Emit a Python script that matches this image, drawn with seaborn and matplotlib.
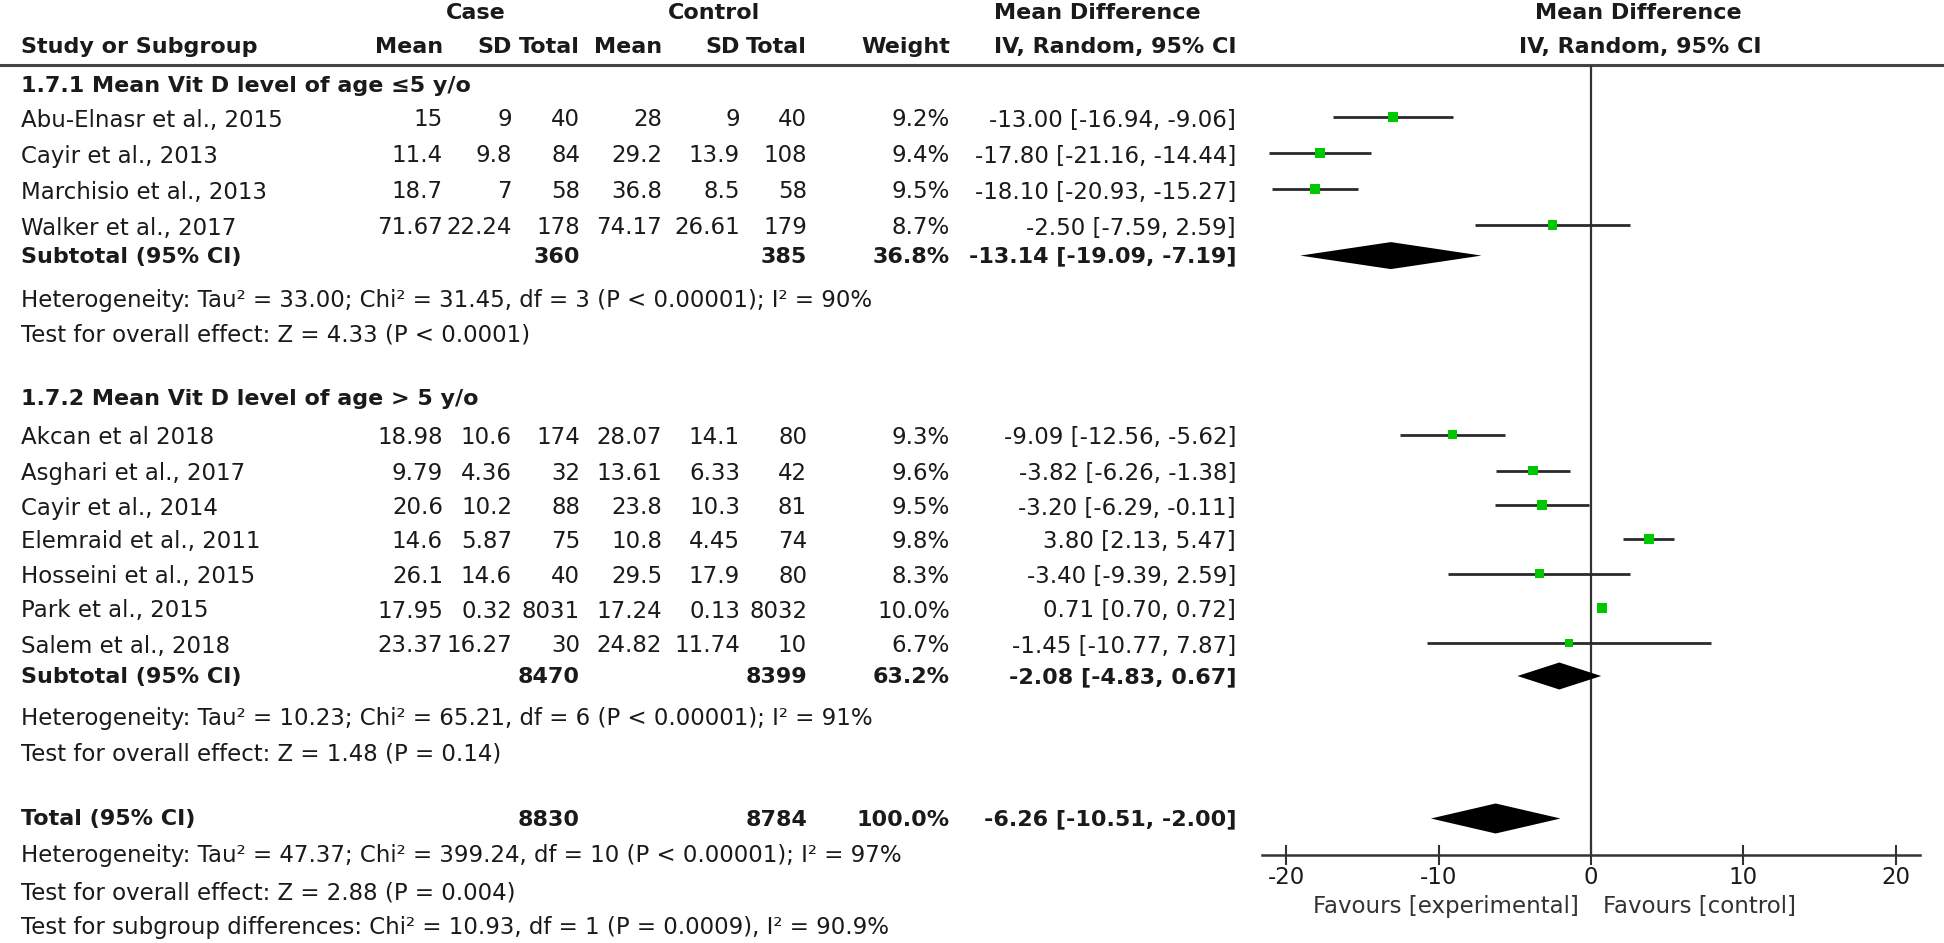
import numpy as np
import pandas as pd
import matplotlib
matplotlib.use("Agg")
import matplotlib.pyplot as plt
import seaborn as sns

# ---------------- data ----------------
studies = ["Abu-Elnasr et al., 2015", "Cayir et al., 2013", "Marchisio et al., 2013", "Walker et al., 2017",
           "Akcan et al 2018", "Asghari et al., 2017", "Cayir et al., 2014", "Elemraid et al., 2011",
           "Hosseini et al., 2015", "Park et al., 2015", "Salem et al., 2018"]
subgroup = [1, 1, 1, 1, 2, 2, 2, 2, 2, 2, 2]
case_mean = [15, 11.4, 18.7, 71.67, 18.98, 9.79, 20.6, 14.6, 26.1, 17.95, 23.37]
case_sd = [9, 9.8, 7, 22.24, 10.6, 4.36, 10.2, 5.87, 14.6, 0.32, 16.27]
case_n = [40, 84, 58, 178, 174, 32, 88, 75, 40, 8031, 30]
ctrl_mean = [28, 29.2, 36.8, 74.17, 28.07, 13.61, 23.8, 10.8, 29.5, 17.24, 24.82]
ctrl_sd = [9, 13.9, 8.5, 26.61, 14.1, 6.33, 10.3, 4.45, 17.9, 0.13, 11.74]
ctrl_n = [40, 108, 58, 179, 80, 42, 81, 74, 80, 8032, 10]
weight = [9.2, 9.4, 9.5, 8.7, 9.3, 9.6, 9.5, 9.8, 8.3, 10.0, 6.7]
md = [-13.00, -17.80, -18.10, -2.50, -9.09, -3.82, -3.20, 3.80, -3.40, 0.71, -1.45]
md_lo = [-16.94, -21.16, -20.93, -7.59, -12.56, -6.26, -6.29, 2.13, -9.39, 0.70, -10.77]
md_hi = [-9.06, -14.44, -15.27, 2.59, -5.62, -1.38, -0.11, 5.47, 2.59, 0.72, 7.87]

group_titles = ["1.7.1 Mean Vit D level of age \u22645 y/o", "1.7.2 Mean Vit D level of age > 5 y/o"]
sub_case_n = [360, 8470]
sub_ctrl_n = [385, 8399]
sub_weight = [36.8, 63.2]
sub_md = [-13.14, -2.08]
sub_lo = [-19.09, -4.83]
sub_hi = [-7.19, 0.67]
sub_het = ["Heterogeneity: Tau\u00b2 = 33.00; Chi\u00b2 = 31.45, df = 3 (P < 0.00001); I\u00b2 = 90%",
           "Heterogeneity: Tau\u00b2 = 10.23; Chi\u00b2 = 65.21, df = 6 (P < 0.00001); I\u00b2 = 91%"]
sub_test = ["Test for overall effect: Z = 4.33 (P < 0.0001)",
            "Test for overall effect: Z = 1.48 (P = 0.14)"]

tot_case_n = 8830
tot_ctrl_n = 8784
tot_weight = 100.0
tot_md, tot_lo, tot_hi = -6.26, -10.51, -2.00
tot_texts = ["Heterogeneity: Tau\u00b2 = 47.37; Chi\u00b2 = 399.24, df = 10 (P < 0.00001); I\u00b2 = 97%",
             "Test for overall effect: Z = 2.88 (P = 0.004)",
             "Test for subgroup differences: Chi\u00b2 = 10.93, df = 1 (P = 0.0009), I\u00b2 = 90.9%"]

xticks = [-20, -10, 0, 10, 20]
fav_left = "Favours [experimental]"
fav_right = "Favours [control]"

# ---------------- layout (pixel rows) ----------------
W, H = 1944, 943
study_rows = [120, 156, 192, 228, 437.6, 473.6, 508, 541.8, 576.5, 611, 646]
title_rows = [85.5, 399]
sub_rows = [256.6, 677]
het_rows = [300, 719]
test_rows = [334.7, 753.8]
tot_row = 819.5
tot_text_rows = [855.5, 892.7, 927.4]

col_study = 21
col_cm, col_csd, col_cn = 443, 512, 580
col_km, col_ksd, col_kn = 662, 740, 807
col_w, col_ci = 950, 1236

sns.set_theme(style="white")
plt.rcParams["font.family"] = ["DejaVu Sans"]
FS = 16.5
FSB = 16.0
TXT = "#1a1a1a"

fig = plt.figure(figsize=(W / 100, H / 100), dpi=100)
axt = fig.add_axes([0, 0, 1, 1])
axt.set_xlim(0, W)
axt.set_ylim(H, 0)
axt.axis("off")

def t(x, y, s, ha="left", bold=False, color=TXT):
    axt.text(x, y, s, ha=ha, va="center", fontsize=FSB if bold else FS, color=color,
             fontweight="bold" if bold else "normal")

# headers
t(476, 13, "Case", ha="center", bold=True)
t(714, 13, "Control", ha="center", bold=True)
t(1097, 13, "Mean Difference", ha="center", bold=True)
t(1638, 13, "Mean Difference", ha="center", bold=True)
t(col_study, 47, "Study or Subgroup", bold=True)
for x, s in [(col_cm, "Mean"), (col_csd, "SD"), (col_cn, "Total"), (col_km, "Mean"),
             (col_ksd, "SD"), (col_kn, "Total"), (col_w, "Weight"), (col_ci, "IV, Random, 95% CI")]:
    t(x, 47, s, ha="right", bold=True)
t(1640, 47, "IV, Random, 95% CI", ha="center", bold=True)
axt.plot([0, W], [64.5, 64.5], color="#444444", lw=2.2)

def g(v):
    return f"{v:g}"

for i, name in enumerate(studies):
    y = study_rows[i]
    t(col_study, y, name)
    t(col_cm, y, g(case_mean[i]), ha="right")
    t(col_csd, y, g(case_sd[i]), ha="right")
    t(col_cn, y, str(case_n[i]), ha="right")
    t(col_km, y, g(ctrl_mean[i]), ha="right")
    t(col_ksd, y, g(ctrl_sd[i]), ha="right")
    t(col_kn, y, str(ctrl_n[i]), ha="right")
    t(col_w, y, f"{weight[i]:.1f}%", ha="right")
    t(col_ci, y, f"{md[i]:.2f} [{md_lo[i]:.2f}, {md_hi[i]:.2f}]", ha="right")

for k in range(2):
    t(col_study, title_rows[k], group_titles[k], bold=True)
    y = sub_rows[k]
    t(col_study, y, "Subtotal (95% CI)", bold=True)
    t(col_cn, y, str(sub_case_n[k]), ha="right", bold=True)
    t(col_kn, y, str(sub_ctrl_n[k]), ha="right", bold=True)
    t(col_w, y, f"{sub_weight[k]:.1f}%", ha="right", bold=True)
    t(col_ci, y, f"{sub_md[k]:.2f} [{sub_lo[k]:.2f}, {sub_hi[k]:.2f}]", ha="right", bold=True)
    t(col_study, het_rows[k], sub_het[k])
    t(col_study, test_rows[k], sub_test[k])

t(col_study, tot_row, "Total (95% CI)", bold=True)
t(col_cn, tot_row, str(tot_case_n), ha="right", bold=True)
t(col_kn, tot_row, str(tot_ctrl_n), ha="right", bold=True)
t(col_w, tot_row, f"{tot_weight:.1f}%", ha="right", bold=True)
t(col_ci, tot_row, f"{tot_md:.2f} [{tot_lo:.2f}, {tot_hi:.2f}]", ha="right", bold=True)
for y, s in zip(tot_text_rows, tot_texts):
    t(col_study, y, s)

# ---------------- forest panel ----------------
ax_left, ax_right, ax_top, ax_bot = 1262, 1920, 64.5, 855
ax = fig.add_axes([ax_left / W, (H - ax_bot) / H, (ax_right - ax_left) / W, (ax_bot - ax_top) / H])
ax.set_facecolor("none")
ax.set_xlim(-21.6, 21.6)
ax.set_ylim(ax_bot, ax_top)

off = -3
df = pd.DataFrame({"md": md, "lo": md_lo, "hi": md_hi, "weight": weight,
                   "y": [r + off for r in study_rows]})
ax.hlines(df["y"], df["lo"], df["hi"], color="#2a2a2a", lw=2.0, zorder=2)
sns.scatterplot(data=df, x="md", y="y", size="weight", sizes=(30, 52), marker="s",
                color="#00c800", linewidth=0, legend=False, ax=ax, zorder=3)

def diamond(c, lo, hi, y, h=13.5):
    ax.fill([lo, c, hi, c], [y, y - h, y, y + h], color="black", zorder=3, lw=0)

for k in range(2):
    diamond(sub_md[k], sub_lo[k], sub_hi[k], sub_rows[k] + off + 2)
diamond(tot_md, tot_lo, tot_hi, tot_row + off + 2, h=15)

ax.axvline(0, color="#333333", lw=1.6, zorder=1)
for s in ["top", "left", "right"]:
    ax.spines[s].set_visible(False)
ax.spines["bottom"].set_color("#333333")
ax.spines["bottom"].set_linewidth(1.8)
ax.set_yticks([])
ax.set_xticks(xticks)
ax.set_xticklabels([str(v) for v in xticks])
ax.tick_params(axis="x", direction="inout", length=14, width=1.5, color="#333333",
               labelsize=FS, labelcolor=TXT, pad=1, bottom=True)
ax.set_xlabel("")
ax.set_ylabel("")
ax.text(-0.8, 907, fav_left, ha="right", va="center", fontsize=FS, color="#333333", clip_on=False)
ax.text(0.8, 907, fav_right, ha="left", va="center", fontsize=FS, color="#333333", clip_on=False)

fig.savefig("out.png", dpi=100, facecolor="white")
